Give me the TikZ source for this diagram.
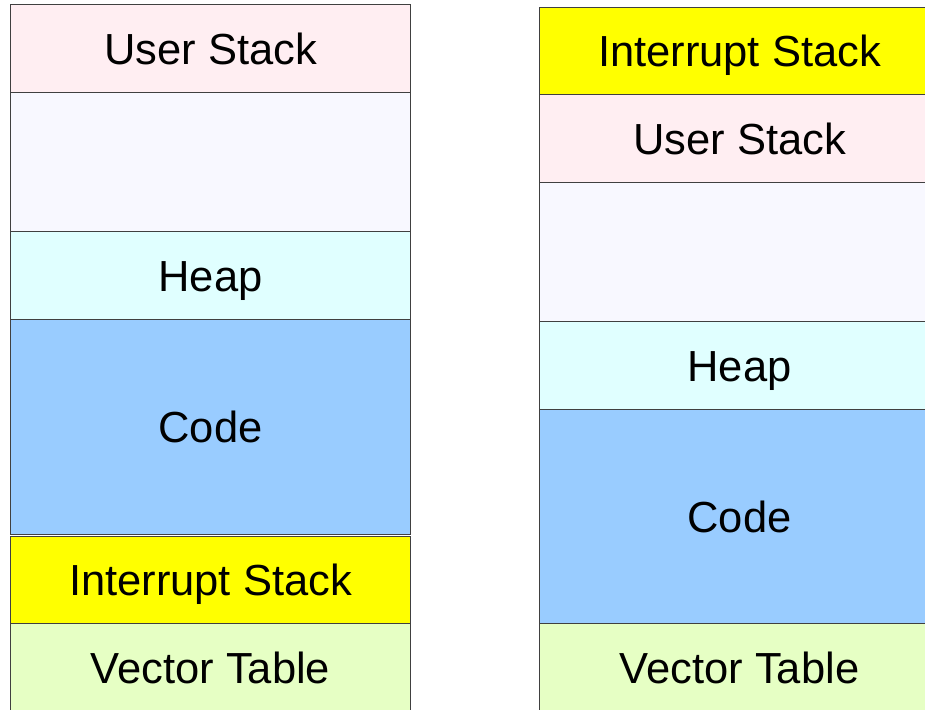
\documentclass[tikz,border=0pt]{standalone}
\usepackage{fontspec}
\setmainfont{Liberation Sans}
\definecolor{ustack}{HTML}{FFEEF2}
\definecolor{freemem}{HTML}{F8F8FF}
\definecolor{heapc}{HTML}{E0FFFF}
\definecolor{codec}{HTML}{99CCFF}
\definecolor{istack}{HTML}{FFFF00}
\definecolor{vtab}{HTML}{E6FFC4}
\tikzset{
  seg/.style={draw=black!75, line width=1pt, minimum width=400pt, inner sep=0pt,
    text height=31.1pt, text depth=0pt,
    anchor=north west, font=\fontsize{43.5}{48}\selectfont},
}
\begin{document}
\begin{tikzpicture}[x=1pt,y=-1pt]
\useasboundingbox (0,0) rectangle (925,709);
\clip (0,0) rectangle (925,709);
% left memory map
\node[seg, fill=ustack, minimum height=88pt] (lus) at (10,4) {User Stack};
\node[seg, fill=freemem, minimum height=139pt] (lfree) at (10,92) {};
\node[seg, fill=heapc, minimum height=88pt] (lheap) at (10,231) {Heap};
\node[seg, fill=codec, minimum height=215pt] (lcode) at (10,319) {Code};
\node[seg, fill=istack, minimum height=87pt] (lis) at (10,536) {Interrupt Stack};
\node[seg, fill=vtab, minimum height=88pt] (lvt) at (10,623) {Vector Table};
% right memory map
\node[seg, fill=istack, minimum height=87pt] (ris) at (539,7) {Interrupt Stack};
\node[seg, fill=ustack, minimum height=88pt] (rus) at (539,94) {User Stack};
\node[seg, fill=freemem, minimum height=139pt] (rfree) at (539,182) {};
\node[seg, fill=heapc, minimum height=88pt] (rheap) at (539,321) {Heap};
\node[seg, fill=codec, minimum height=214pt] (rcode) at (539,409) {Code};
\node[seg, fill=vtab, minimum height=88pt] (rvt) at (539,623) {Vector Table};
\end{tikzpicture}
\end{document}
